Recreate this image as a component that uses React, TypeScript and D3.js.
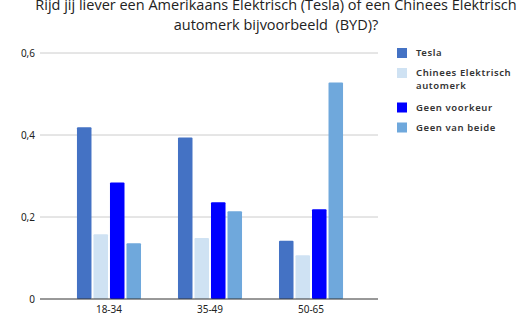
import React from "react";
import * as d3 from "d3";

const categories = ["18-34", "35-49", "50-65"];
const seriesNames = ["Tesla", "Chinees Elektrisch automerk", "Geen voorkeur", "Geen van beide"];
const legendLines = [["Tesla"], ["Chinees Elektrisch", "automerk"], ["Geen voorkeur"], ["Geen van beide"]];
const tesla = [0.419, 0.394, 0.142];
const chinees = [0.158, 0.149, 0.107];
const geenVoorkeur = [0.284, 0.236, 0.219];
const geenVanBeide = [0.136, 0.214, 0.528];
const yTicks = [0, 0.2, 0.4, 0.6];
const yTickLabels = ["0", "0,2", "0,4", "0,6"];
const colors = ["#4472c4", "#cfe2f3", "#0000ff", "#6fa8dc"];

export default function App() {
  const W = 520, H = 318;
  const series = [tesla, chinees, geenVoorkeur, geenVanBeide];
  const x = d3.scaleBand<string>().domain(categories).range([41, 379]).paddingInner(0.366).paddingOuter(0.356);
  const xi = d3.scaleBand<string>().domain(seriesNames).range([0, x.bandwidth()]).paddingInner(0.12);
  const y = d3.scaleLinear().domain([0, 0.6]).range([299, 53]);
  const legendY = [52.5, 72.5, 107, 127];
  return (
    <svg width={W} height={H} style={{ position: "absolute", left: 0, top: 0, background: "#fff" }}>
      <g fontFamily="'Open Sans', sans-serif" fill="#222" fontSize={14.5} textAnchor="middle">
        <text x={276} y={10}>Rijd jij liever een Amerikaans Elektrisch (Tesla) of een Chinees Elektrisch</text>
        <text x={276} y={30} xmlSpace="preserve">automerk bijvoorbeeld  (BYD)?</text>
      </g>
      {yTicks.map((t, i) => (
        <g key={i}>
          {t !== 0 && <line x1={40} x2={378} y1={y(t)} y2={y(t)} stroke="#cccccc" strokeWidth={1} />}
          <text x={35} y={y(t)} dy="0.35em" textAnchor="end" fontFamily="'Noto Sans', sans-serif" fontSize={10} fill="#222">
            {yTickLabels[i]}
          </text>
        </g>
      ))}
      {categories.map((c, ci) => (
        <g key={c}>
          {series.map((s, si) => {
            const bx = (x(c) || 0) + (xi(seriesNames[si]) || 0);
            return (
              <rect key={si} x={bx} y={y(s[ci])} width={xi.bandwidth()} height={y(0) - y(s[ci])} fill={colors[si]} rx={1} />
            );
          })}
          <text x={(x(c) || 0) + x.bandwidth() / 2} y={313} textAnchor="middle" fontFamily="'Noto Sans', sans-serif" fontSize={10} fill="#222">
            {c}
          </text>
        </g>
      ))}
      <line x1={40} x2={378} y1={y(0)} y2={y(0)} stroke="#333" strokeWidth={1} />
      {legendLines.map((lines, i) => (
        <g key={i}>
          <rect x={397} y={legendY[i] - 4.5} width={10} height={10} fill={colors[i]} />
          {lines.map((l, li) => (
            <text key={li} x={416} y={legendY[i] + 3.5 + li * 12.5} fontFamily="'Noto Sans', sans-serif" fontSize={9.5} fontWeight={600} letterSpacing={0.6} fill="#333">
              {l}
            </text>
          ))}
        </g>
      ))}
    </svg>
  );
}
